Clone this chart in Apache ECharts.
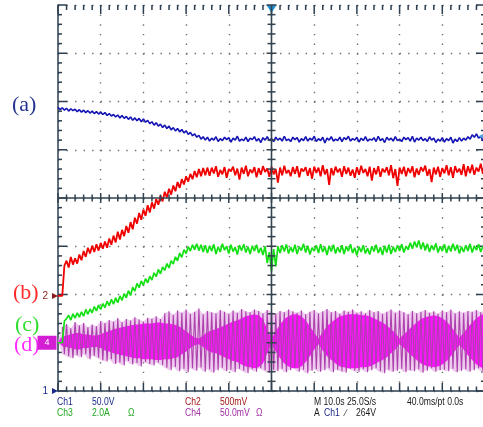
<!DOCTYPE html>
<html><head><meta charset="utf-8">
<script src="https://cdn.jsdelivr.net/npm/echarts@6/dist/echarts.min.js"></script>
<style>html,body{margin:0;padding:0;background:#fff}#c{width:483px;height:427px}</style>
</head><body><div id="c"></div>
<script>
// time axis in divisions (-5..5), vertical in divisions (-4..4)
const T0 = -5;
const DT = 0.05;   // sample step of Ch1..Ch3
const MDT = 0.1;   // sample step of Ch4 envelope

// (a) Ch1 - blue
const blueV = [1.88,1.83,1.87,1.82,1.86,1.80,1.85,1.81,1.84,1.79,
 1.83,1.78,1.82,1.77,1.81,1.76,1.80,1.75,1.79,1.74,
 1.78,1.73,1.77,1.71,1.75,1.70,1.73,1.68,1.72,1.66,
 1.71,1.65,1.69,1.63,1.68,1.61,1.66,1.60,1.65,1.58,
 1.64,1.57,1.61,1.54,1.58,1.51,1.56,1.49,1.53,1.46,
 1.51,1.44,1.49,1.41,1.46,1.39,1.44,1.37,1.42,1.35,
 1.39,1.32,1.36,1.29,1.33,1.26,1.30,1.22,1.27,1.20,
 1.26,1.18,1.24,1.20,1.27,1.17,1.23,1.19,1.26,1.21,
 1.25,1.16,1.24,1.20,1.28,1.18,1.22,1.19,1.26,1.17,
 1.24,1.21,1.27,1.18,1.23,1.15,1.25,1.20,1.27,1.19,
 1.23,1.17,1.26,1.20,1.24,1.18,1.28,1.19,1.22,1.17,
 1.26,1.21,1.25,1.16,1.23,1.19,1.27,1.18,1.24,1.20,
 1.28,1.17,1.23,1.19,1.26,1.14,1.24,1.20,1.27,1.18,
 1.22,1.19,1.26,1.17,1.25,1.21,1.28,1.18,1.23,1.20,
 1.26,1.16,1.24,1.19,1.27,1.18,1.22,1.20,1.25,1.17,
 1.28,1.19,1.23,1.15,1.26,1.20,1.24,1.18,1.27,1.19,
 1.22,1.17,1.26,1.21,1.25,1.18,1.28,1.16,1.24,1.20,
 1.26,1.19,1.23,1.17,1.27,1.20,1.24,1.15,1.22,1.18,
 1.25,1.16,1.23,1.19,1.26,1.14,1.22,1.17,1.25,1.18,
 1.24,1.20,1.27,1.22,1.31,1.26,1.33,1.24,1.28,1.19,1.21];

// (b) Ch2 - red
const redV = [-2.03,-2.03,-2.03,
 -1.40,-1.30,-1.44,-1.22,-1.38,-1.25,-1.36,-1.17,
 -1.29,-1.10,-1.22,-1.03,-1.15,-0.99,-1.12,-0.96,-1.09,-0.93,
 -1.05,-0.90,-1.03,-0.84,-0.97,-0.78,-0.92,-0.70,-0.86,-0.66,
 -0.79,-0.58,-0.72,-0.50,-0.65,-0.41,-0.53,-0.31,-0.45,-0.24,
 -0.37,-0.15,-0.30,-0.09,-0.22,-0.02,-0.14,0.05,-0.07,0.13,
 0.01,0.19,0.07,0.26,0.14,0.33,0.21,0.39,0.28,0.45,
 0.34,0.50,0.39,0.56,0.43,0.60,0.45,0.62,0.47,0.63,
 0.46,0.63,0.51,0.66,0.44,0.58,0.49,0.64,0.42,0.60,
 0.55,0.65,0.47,0.61,0.38,0.63,0.50,0.67,0.45,0.59,
 0.52,0.64,0.43,0.62,0.48,0.66,0.54,0.61,0.44,0.65,
 0.49,0.60,0.32,0.63,0.47,0.67,0.51,0.58,0.45,0.64,
 0.50,0.66,0.43,0.61,0.55,0.64,0.46,0.62,0.40,0.65,
 0.52,0.63,0.45,0.68,0.49,0.60,0.27,0.62,0.47,0.65,
 0.53,0.61,0.44,0.66,0.50,0.63,0.46,0.59,0.42,0.64,
 0.48,0.67,0.52,0.60,0.45,0.65,0.36,0.62,0.49,0.66,
 0.44,0.61,0.53,0.64,0.47,0.68,0.41,0.60,0.25,0.63,
 0.50,0.65,0.45,0.62,0.52,0.66,0.43,0.61,0.48,0.64,
 0.55,0.67,0.46,0.60,0.33,0.63,0.49,0.65,0.44,0.62,
 0.51,0.68,0.47,0.64,0.42,0.66,0.53,0.61,0.48,0.70,
 0.45,0.66,0.52,0.69,0.48,0.63,0.55,0.71,0.50,0.66];

// (c) Ch3 - green
const greenV = [-3.00,-3.00,-3.00,-2.55,-2.50,-2.43,-2.53,-2.40,-2.49,-2.38,
 -2.47,-2.36,-2.45,-2.31,-2.41,-2.30,-2.38,-2.25,-2.34,-2.22,
 -2.31,-2.19,-2.27,-2.14,-2.23,-2.10,-2.20,-2.07,-2.17,-2.03,
 -2.12,-1.98,-2.07,-1.92,-2.02,-1.85,-1.93,-1.77,-1.86,-1.72,
 -1.81,-1.67,-1.76,-1.62,-1.70,-1.55,-1.63,-1.48,-1.57,-1.43,
 -1.50,-1.36,-1.45,-1.30,-1.37,-1.22,-1.30,-1.14,-1.23,-1.07,
 -1.15,-1.01,-1.10,-0.97,-1.07,-0.95,-1.09,-0.97,-1.12,-0.98,
 -1.14,-0.99,-1.10,-0.96,-1.16,-1.01,-1.12,-0.95,-1.08,-1.00,
 -1.15,-0.97,-1.11,-1.02,-1.17,-0.98,-1.09,-0.96,-1.13,-1.01,
 -1.16,-0.99,-1.10,-0.97,-1.14,-1.03,-1.18,-1.00,-1.35,-1.12,
 -1.52,-1.06,-1.42,-1.00,-1.14,-0.98,-1.11,-0.96,-1.15,-1.02,
 -1.12,-0.97,-1.16,-1.01,-1.09,-0.95,-1.13,-0.99,-1.17,-1.03,
 -1.10,-0.98,-1.14,-0.96,-1.12,-1.01,-1.18,-0.99,-1.11,-0.97,
 -1.15,-1.02,-1.13,-0.98,-1.16,-1.00,-1.10,-0.96,-1.14,-1.03,
 -1.19,-1.01,-1.12,-0.98,-1.15,-1.04,-1.17,-1.00,-1.11,-0.97,
 -1.14,-1.02,-1.18,-0.99,-1.13,-0.97,-1.16,-1.01,-1.12,-0.98,
 -1.10,-0.96,-1.13,-1.00,-1.07,-0.93,-1.05,-0.90,-1.02,-0.88,
 -1.06,-0.92,-1.09,-0.95,-1.12,-0.98,-1.08,-0.94,-1.13,-1.00,
 -1.10,-0.96,-1.14,-0.99,-1.11,-0.95,-1.09,-0.97,-1.15,-1.01,
 -1.12,-0.98,-1.10,-0.95,-1.13,-0.99,-1.08,-0.96,-1.12,-1.00,-1.07];

// (d) Ch4 - magenta: centre, outer envelope (up / down) and inner dense band half-height
const magCenter = -2.97;
const magOuterUp = [0,0.30,0.36,0.27,0.40,0.33,0.38,0.29,0.35,0.31,0.42,
 0.38,0.44,0.41,0.48,0.40,0.46,0.43,0.50,0.45,0.41,
 0.49,0.47,0.52,0.46,0.58,0.62,0.55,0.64,0.59,0.66,
 0.57,0.61,0.68,0.56,0.63,0.60,0.58,0.65,0.61,0.57,
 0.64,0.59,0.67,0.62,0.60,0.66,0.63,0.58,0.65,0.61,
 0.57,0.63,0.60,0.66,0.62,0.59,0.64,0.56,0.61,0.65,
 0.58,0.62,0.67,0.60,0.63,0.57,0.64,0.61,0.66,0.59,
 0.62,0.58,0.65,0.60,0.63,0.57,0.61,0.66,0.59,0.64,
 0.60,0.56,0.63,0.58,0.61,0.65,0.59,0.62,0.57,0.64,
 0.60,0.66,0.58,0.62,0.59,0.63,0.61,0.65,0.60,0.64];
const magOuterDn = [0,0.27,0.31,0.35,0.29,0.33,0.27,0.37,0.30,0.34,0.39,
 0.42,0.37,0.47,0.44,0.50,0.41,0.48,0.45,0.52,0.43,
 0.47,0.50,0.44,0.49,0.55,0.60,0.53,0.62,0.57,0.64,
 0.56,0.61,0.54,0.63,0.58,0.65,0.60,0.55,0.62,0.59,
 0.64,0.57,0.61,0.66,0.58,0.63,0.56,0.60,0.65,0.59,
 0.62,0.57,0.64,0.60,0.55,0.63,0.59,0.66,0.61,0.58,
 0.63,0.60,0.56,0.64,0.59,0.62,0.65,0.57,0.61,0.63,
 0.58,0.64,0.60,0.56,0.62,0.66,0.59,0.63,0.61,0.57,
 0.64,0.60,0.62,0.58,0.65,0.61,0.56,0.63,0.60,0.59,
 0.62,0.57,0.64,0.61,0.58,0.63,0.60,0.56,0.62,0.65];
const magInner = [0,0.10,0.12,0.14,0.17,0.17,0.14,0.14,0.12,0.12,0.14,
 0.19,0.21,0.25,0.27,0.29,0.31,0.33,0.35,0.35,0.37,
 0.37,0.37,0.39,0.39,0.37,0.37,0.35,0.33,0.27,0.21,
 0.14,0.08,0.06,0.12,0.19,0.23,0.25,0.29,0.33,0.37,
 0.41,0.43,0.48,0.52,0.54,0.56,0.54,0.46,0.25,0.06,
 0.21,0.35,0.46,0.52,0.56,0.56,0.52,0.43,0.31,0.17,
 0.06,0.19,0.31,0.39,0.46,0.52,0.54,0.56,0.56,0.56,
 0.54,0.54,0.52,0.48,0.43,0.39,0.33,0.25,0.17,0.06,
 0.14,0.23,0.31,0.39,0.46,0.50,0.52,0.54,0.52,0.48,
 0.41,0.31,0.19,0.08,0.17,0.29,0.39,0.48,0.54,0.58];

// channel reference markers and trigger
const refCh1 = -4.0, refCh2 = -2.03, refCh4 = -3.0;
const triggerPos = 0, triggerLevel = 1.28;

// labels
const traceLabels = [
  {t:'(a)', x:12, y:105, c:'#25348f'},
  {t:'(b)', x:13, y:293, c:'#ff2b2b'},
  {t:'(c)', x:15, y:325, c:'#2fdd2f'},
  {t:'(d)', x:14, y:345, c:'#ff2bff'}
];
const infoTexts = [
  {t:'Ch1', x:57, y:402, c:'#1c2a8a'}, {t:'50.0V', x:92, y:402, c:'#1c2a8a'},
  {t:'Ch2', x:185, y:402, c:'#a31515'}, {t:'500mV', x:220, y:402, c:'#a31515'},
  {t:'M 10.0s 25.0S/s', x:314, y:402, c:'#1a1a1a'}, {t:'40.0ms/pt 0.0s', x:407, y:402, c:'#1a1a1a'},
  {t:'Ch3', x:57, y:413, c:'#22a822'}, {t:'2.0A', x:92, y:413, c:'#22a822'}, {t:'Ω', x:128, y:413, c:'#22a822'},
  {t:'Ch4', x:185, y:413, c:'#a030a0'}, {t:'50.0mV', x:220, y:413, c:'#a030a0'}, {t:'Ω', x:256, y:413, c:'#a030a0'},
  {t:'A', x:314, y:413, c:'#1a1a1a'}, {t:'Ch1', x:324, y:413, c:'#1c2a8a'}, {t:'∕', x:345, y:413, c:'#1a1a1a'}, {t:'264V', x:356, y:413, c:'#1a1a1a'}
];

function toXY(arr) { return arr.map((v, i) => [T0 + i * DT, v]); }
const magZig = [];
for (let i = 1; i < magOuterUp.length; i++) {
  magZig.push([T0 + i * MDT, magCenter + magOuterUp[i]]);
  magZig.push([T0 + i * MDT + MDT / 2, magCenter - magOuterDn[i]]);
}
function band(up, dn, fill) {
  return function (params, api) {
    const pts = [];
    for (let i = 0; i < up.length; i++) pts.push(api.coord([T0 + i * MDT, magCenter + up[i]]));
    for (let i = dn.length - 1; i >= 0; i--) pts.push(api.coord([T0 + i * MDT, magCenter - dn[i]]));
    return {type: 'polygon', shape: {points: pts}, style: {fill: fill}};
  };
}

const AX = '#2c3e50';
const CX = '#33434f';
// graticule ticks (edges and centre cross), placed through the axes' scales
function graticule(center) {
  return function (params, api) {
    const ch = [];
    const col = center ? CX : AX;
    function seg(x1, y1, x2, y2, w) {
      ch.push({type: 'line', shape: {x1: x1, y1: y1, x2: x2, y2: y2},
        style: {stroke: col, lineWidth: w || 1.5, fill: null}});
    }
    if (center) {
      const a = api.coord([-5, 0]), b = api.coord([5, 0]);
      seg(a[0], a[1], b[0], b[1], 1.6);
      const c = api.coord([0, -4]), d = api.coord([0, 4]);
      seg(c[0], c[1], d[0], d[1], 1.6);
    }
    for (let k = 0; k <= 50; k++) {
      const x = -5 + k / 5, major = k % 5 === 0;
      if (center) {
        const p = api.coord([x, 0]); const L = major ? 5 : 3.5;
        seg(p[0], p[1] - L, p[0], p[1] + L);
      } else {
        const b = api.coord([x, -4]); seg(b[0], b[1], b[0], b[1] - (major ? 8 : 4.5));
        const t = api.coord([x, 4]); seg(t[0], t[1], t[0], t[1] + (major ? 9 : 5));
      }
    }
    for (let k = 0; k <= 40; k++) {
      const y = -4 + k / 5, major = k % 5 === 0;
      if (center) {
        const p = api.coord([0, y]); const L = major ? 5 : 4;
        seg(p[0] - L, p[1], p[0] + L, p[1]);
      } else {
        const l = api.coord([-5, y]); seg(l[0], l[1], l[0] + (major ? 9 : 4), l[1]);
        const r = api.coord([5, y]); seg(r[0], r[1], r[0] - (major ? 9 : 4), r[1]);
      }
    }
    return {type: 'group', children: ch};
  };
}

const chart = echarts.init(document.getElementById('c'), null, {renderer: 'canvas'});
chart.setOption({
  animation: false,
  backgroundColor: '#ffffff',
  grid: {left: 58, top: 5, width: 427, height: 386, containLabel: false, outerBoundsMode: 'none'},
  xAxis: {type: 'value', min: -5, max: 5, interval: 1, axisLabel: {show: false},
    axisLine: {show: true, onZero: false, lineStyle: {color: AX, width: 1.5}},
    axisTick: {show: false}, minorTick: {show: false},
    splitLine: {show: true, lineStyle: {color: '#6f6f6f', width: 1.4, type: [1.4, 8.25]}}},
  yAxis: {type: 'value', min: -4, max: 4, interval: 1, axisLabel: {show: false},
    axisLine: {show: true, onZero: false, lineStyle: {color: AX, width: 1.5}},
    axisTick: {show: false}, minorTick: {show: false},
    splitLine: {show: true, lineStyle: {color: '#6f6f6f', width: 1.4, type: [1.4, 7.14]}}},
  series: [
    {type: 'custom', name: 'edge-ticks', z: 1, data: [[0, 0]], renderItem: graticule(false), silent: true},
    {type: 'custom', name: 'ch4-env', data: [[T0, magCenter]],
      renderItem: band(magOuterUp, magOuterDn, '#eecbee'), silent: true},
    {type: 'line', name: 'ch4-lines', data: magZig, symbol: 'none',
      lineStyle: {color: '#ac40ac', width: 1.1}, silent: true,
      markPoint: {symbol: 'rect', symbolSize: [19, 14], silent: true, data: [
        {coord: [-5, refCh4], symbolOffset: [-11, 0], itemStyle: {color: '#d41ed4'},
         label: {show: true, formatter: '4', color: '#ffffff', fontSize: 9, fontFamily: 'Liberation Sans'}}]}},
    {type: 'custom', name: 'ch4-core', data: [[T0, magCenter]],
      renderItem: band(magInner, magInner, '#ff14ff'), silent: true},
    {type: 'line', name: 'ch3', data: toXY(greenV), symbol: 'none',
      lineStyle: {color: '#14e014', width: 1.7}, silent: true},
    {type: 'line', name: 'ch2', data: toXY(redV), symbol: 'none',
      lineStyle: {color: '#f00000', width: 1.8}, silent: true,
      markPoint: {symbol: 'triangle', symbolRotate: -90, symbolSize: [6, 6], silent: true, data: [
        {coord: [-5, refCh2], symbolOffset: [-3, 0], itemStyle: {color: '#8a1c1c'},
         label: {show: true, position: 'left', distance: 4, formatter: '2', color: '#8a1c1c', fontSize: 10, fontFamily: 'Liberation Sans'}}]}},
    {type: 'line', name: 'ch1', data: toXY(blueV), symbol: 'none',
      lineStyle: {color: '#1414b4', width: 1.6}, silent: true,
      markPoint: {silent: true, data: [
        {coord: [-5, refCh1], symbol: 'triangle', symbolRotate: -90, symbolSize: [6, 6], symbolOffset: [-3, 0],
         itemStyle: {color: '#1c2a8a'},
         label: {show: true, position: 'left', distance: 4, formatter: '1', color: '#1c2a8a', fontSize: 10, fontFamily: 'Liberation Sans'}},
        {coord: [triggerPos, 4], symbol: 'triangle', symbolRotate: 180, symbolSize: [10, 8], symbolOffset: [0, 4],
         itemStyle: {color: '#1e8fd6'}, label: {show: false}},
        {coord: [5, triggerLevel], symbol: 'triangle', symbolRotate: 90, symbolSize: [7, 7], symbolOffset: [-3, 0],
         itemStyle: {color: '#4aa3e0'}, label: {show: false}}
      ]}},
    {type: 'custom', name: 'centre-cross', z: 6, data: [[0, 0]], renderItem: graticule(true), silent: true}
  ],
  graphic: traceLabels.map(l => ({type: 'text', x: l.x, y: l.y, silent: true,
      style: {text: l.t, fill: l.c, font: '22px "Liberation Serif"', verticalAlign: 'middle'}}))
    .concat(infoTexts.map(l => ({type: 'text', x: l.x, y: l.y, scaleX: 0.86, silent: true,
      style: {text: l.t, fill: l.c, font: '10px "Liberation Sans"', verticalAlign: 'middle'}})))
});
</script></body></html>
